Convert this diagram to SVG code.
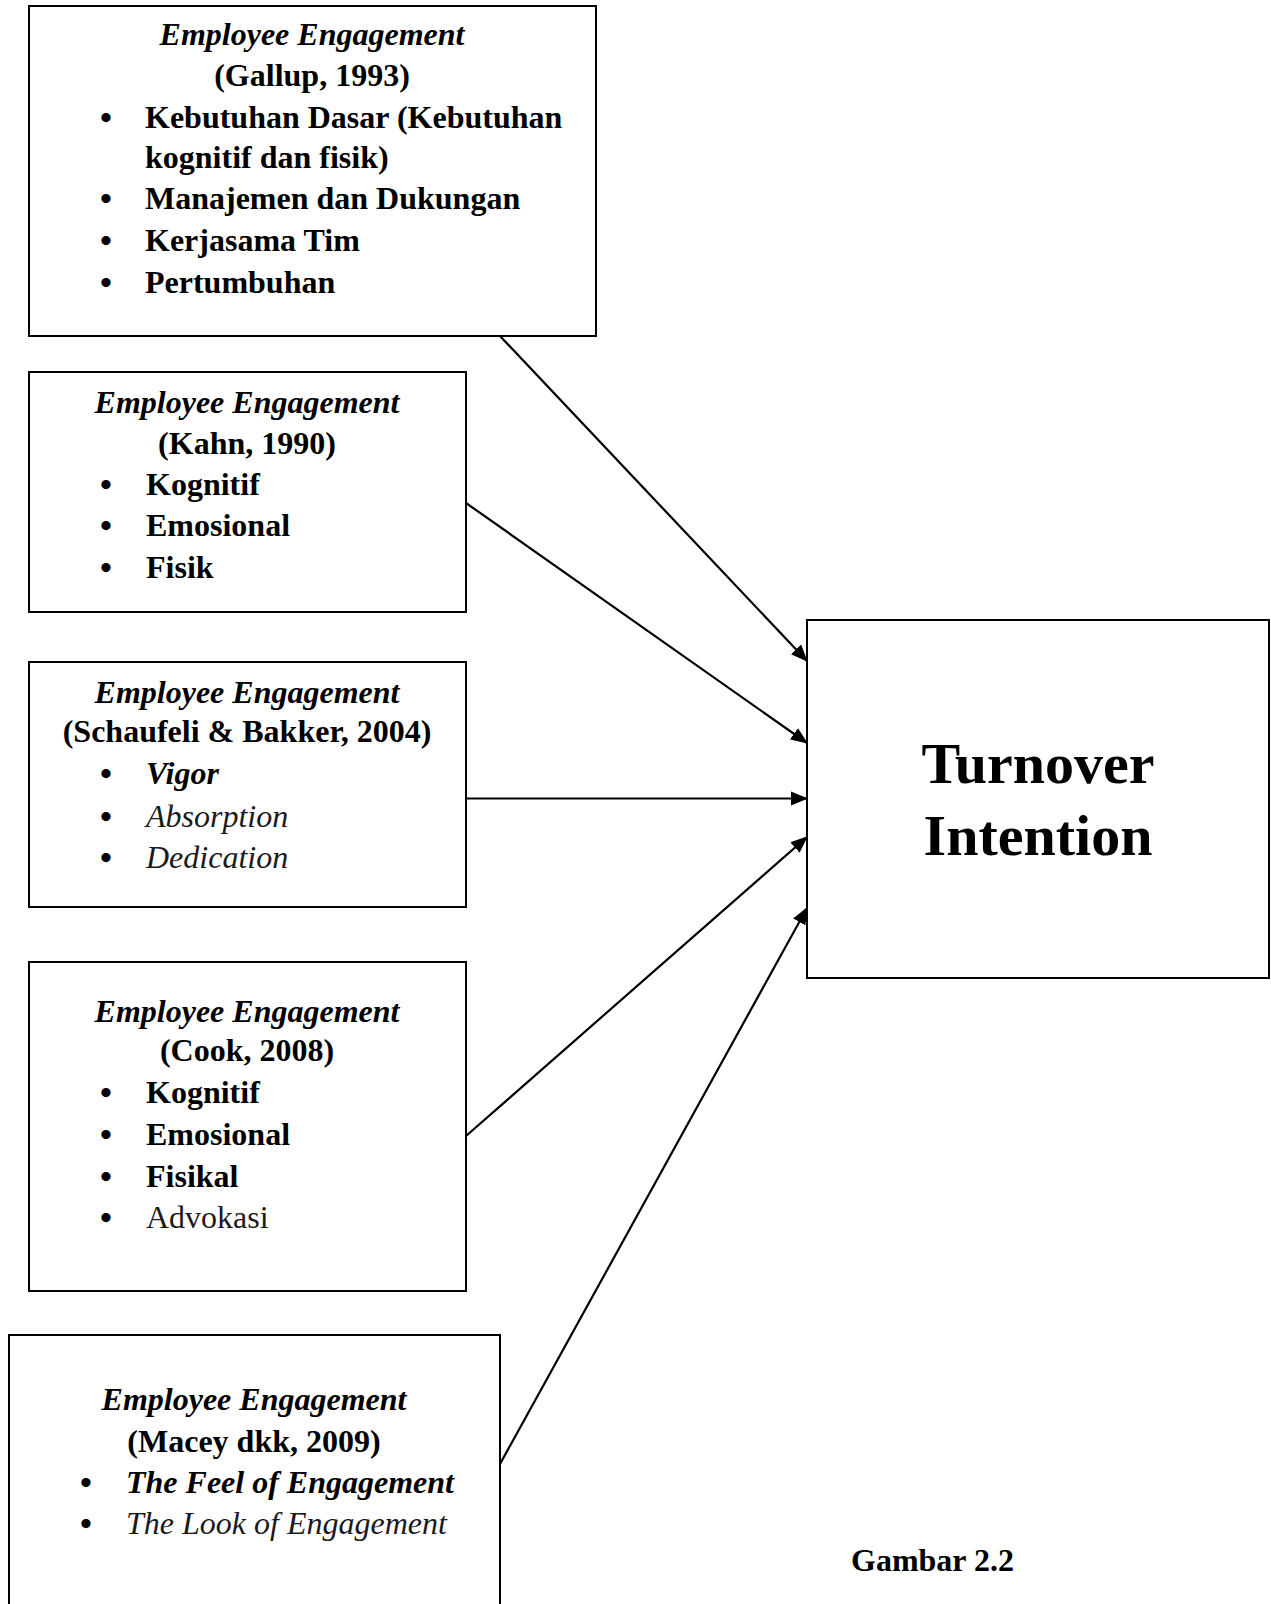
<svg xmlns="http://www.w3.org/2000/svg" width="1271" height="1604" viewBox="0 0 1271 1604">
<style>
text{font-family:"Liberation Serif","Times New Roman",serif;fill:#000;font-size:32px}
.t{font-weight:bold;font-style:italic;text-anchor:middle}
.h{font-weight:bold;text-anchor:middle}
.bd{font-weight:bold}
.bi{font-weight:bold;font-style:italic}
.i{font-style:italic;fill:#1a1a1a}
.r{fill:#1a1a1a}
.b{font-size:34px;font-weight:bold;text-anchor:middle}
.box{fill:#fff;stroke:#000;stroke-width:2}
.big{font-weight:bold;font-size:58px;text-anchor:middle}
.c{stroke:#000;stroke-width:2.2;fill:none}
</style>
<defs>
<marker id="ah" markerUnits="userSpaceOnUse" markerWidth="17" markerHeight="16" refX="16" refY="8" orient="auto">
<path d="M0,1 L17,8 L0,15 z" fill="#000"/>
</marker>
</defs>
<g id="connectors">
<line class="c" x1="500" y1="336" x2="807" y2="661" marker-end="url(#ah)"/>
<line class="c" x1="466" y1="503" x2="807" y2="743" marker-end="url(#ah)"/>
<line class="c" x1="466" y1="798.5" x2="807" y2="798.5" marker-end="url(#ah)"/>
<line class="c" x1="466" y1="1136" x2="807" y2="837" marker-end="url(#ah)"/>
<line class="c" x1="500" y1="1464" x2="807" y2="908" marker-end="url(#ah)"/>
</g>
<g id="gallup">
<rect class="box" x="29" y="6" width="567" height="330"/>
<text class="t" x="312" y="45">Employee Engagement</text>
<text class="h" x="312" y="86">(Gallup, 1993)</text>
<text class="b" x="106" y="129">•</text>
<text class="bd" x="145" y="128">Kebutuhan Dasar (Kebutuhan</text>
<text class="bd" x="145" y="168">kognitif dan fisik)</text>
<text class="b" x="106" y="210">•</text>
<text class="bd" x="145" y="209">Manajemen dan Dukungan</text>
<text class="b" x="106" y="252">•</text>
<text class="bd" x="145" y="251">Kerjasama Tim</text>
<text class="b" x="106" y="294">•</text>
<text class="bd" x="145" y="293">Pertumbuhan</text>
</g>
<g id="kahn">
<rect class="box" x="29" y="372" width="437" height="240"/>
<text class="t" x="247" y="413">Employee Engagement</text>
<text class="h" x="247" y="454">(Kahn, 1990)</text>
<text class="b" x="106" y="496">•</text>
<text class="bd" x="146" y="495">Kognitif</text>
<text class="b" x="106" y="537">•</text>
<text class="bd" x="146" y="536">Emosional</text>
<text class="b" x="106" y="579">•</text>
<text class="bd" x="146" y="578">Fisik</text>
</g>
<g id="schaufeli">
<rect class="box" x="29" y="662" width="437" height="245"/>
<text class="t" x="247" y="703">Employee Engagement</text>
<text class="h" x="247" y="742">(Schaufeli &amp; Bakker, 2004)</text>
<text class="b" x="106" y="785">•</text>
<text class="bi" x="146" y="784">Vigor</text>
<text class="b" x="106" y="828">•</text>
<text class="i" x="146" y="827">Absorption</text>
<text class="b" x="106" y="869">•</text>
<text class="i" x="146" y="868">Dedication</text>
</g>
<g id="cook">
<rect class="box" x="29" y="962" width="437" height="329"/>
<text class="t" x="247" y="1022">Employee Engagement</text>
<text class="h" x="247" y="1061">(Cook, 2008)</text>
<text class="b" x="106" y="1104">•</text>
<text class="bd" x="146" y="1103">Kognitif</text>
<text class="b" x="106" y="1146">•</text>
<text class="bd" x="146" y="1145">Emosional</text>
<text class="b" x="106" y="1188">•</text>
<text class="bd" x="146" y="1187">Fisikal</text>
<text class="b" x="106" y="1229">•</text>
<text class="r" x="146" y="1228">Advokasi</text>
</g>
<g id="macey">
<rect class="box" x="9" y="1335" width="491" height="300"/>
<text class="t" x="254" y="1410">Employee Engagement</text>
<text class="h" x="254" y="1452">(Macey dkk, 2009)</text>
<text class="b" x="86" y="1494">•</text>
<text class="bi" x="126" y="1493">The Feel of Engagement</text>
<text class="b" x="86" y="1535">•</text>
<text class="i" x="126" y="1534">The Look of Engagement</text>
</g>
<g id="turnover">
<rect class="box" x="807" y="620" width="462" height="358"/>
<text class="big" x="1038" y="783">Turnover</text>
<text class="big" x="1038" y="855">Intention</text>
</g>
<g id="caption">
<text class="bd" x="851" y="1571">Gambar 2.2</text>
</g>
</svg>
